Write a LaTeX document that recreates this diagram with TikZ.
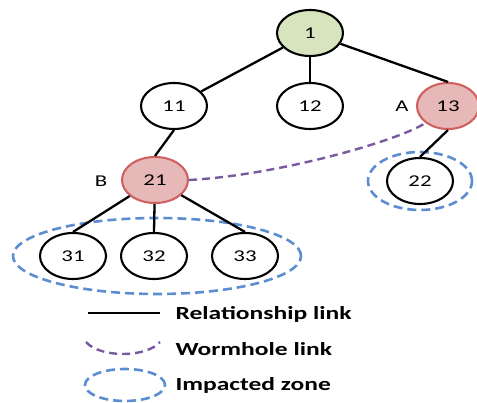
\documentclass[tikz,border=0pt]{standalone}
\usepackage{fontspec}
\usetikzlibrary{shapes.geometric}
\newfontfamily\nodefont[FakeStretch=1.38]{Carlito}
\newfontfamily\legfont[FakeStretch=1.38]{Carlito Bold}
\definecolor{gfill}{HTML}{D7E4BD}
\definecolor{rfill}{HTML}{E6B9B8}
\definecolor{rdraw}{HTML}{D06060}
\definecolor{zoneblue}{HTML}{5A8ED0}
\definecolor{wormpurple}{HTML}{7A5A9E}
\tikzset{
  tnode/.style={ellipse, draw=black, line width=2.1pt, fill=white, minimum width=66pt, minimum height=46pt, inner sep=0pt, font=\nodefont\fontsize{16.5}{16.5}\selectfont},
  greennode/.style={tnode, fill=gfill},
  rednode/.style={tnode, fill=rfill, draw=rdraw},
  rel/.style={line width=2.3pt, black},
  worm/.style={line width=2.4pt, wormpurple, dash pattern=on 8pt off 5pt},
  zone/.style={ellipse, draw=zoneblue, line width=2.6pt, dash pattern=on 9pt off 5pt, inner sep=0pt},
  lbl/.style={font=\nodefont\fontsize{16.5}{16.5}\selectfont},
  legtext/.style={anchor=west, font=\legfont\fontsize{18.5}{18.5}\selectfont}
}
\begin{document}
\begin{tikzpicture}[x=1pt,y=-1pt]
\useasboundingbox (0,0) rectangle (477,403);
% zones
\node[zone, minimum width=288pt, minimum height=76pt] (zbig) at (157,256) {};
\node[zone, minimum width=104pt, minimum height=58pt] (zsmall) at (420,181) {};
% nodes
\node[greennode] (n1) at (310,33) {1};
\node[tnode] (n11) at (174,106) {11};
\node[tnode] (n12) at (310,106) {12};
\node[rednode, minimum width=62pt] (n13) at (448,106) {13};
\node[rednode] (n21) at (155,180) {21};
\node[tnode] (n22) at (420,181) {22};
\node[tnode] (n31) at (73,256) {31};
\node[tnode] (n32) at (154,256) {32};
\node[tnode] (n33) at (245,256) {33};
\node[lbl] (la) at (402,106) {A};
\node[lbl] (lb) at (101,181) {B};
% relationship links
\draw[rel] (n1) -- (n11);
\draw[rel] (n1) -- (n12);
\draw[rel] (n1) -- (n13.north);
\draw[rel] (n11.south) -- (n21.north);
\draw[rel] (n13.south) -- (n22.north);
\draw[rel] (n21) -- (n31.north);
\draw[rel] (n21) -- (n32.north);
\draw[rel] (n21) -- (n33.north);
% wormhole
\draw[worm] (n21.east) .. controls (280,175) and (400,140) .. (n13.south west);
% legend
\coordinate (l1a) at (88,313);
\coordinate (l1b) at (160,313);
\draw[rel] (l1a) -- (l1b);
\node[legtext] (t1) at (172,314) {Relationship link};
\coordinate (l2a) at (86,342);
\coordinate (l2b) at (160,342);
\draw[worm] (l2a) .. controls (100,358) and (146,358) .. (l2b);
\node[legtext] (t2) at (172,349) {Wormhole link};
\node[zone, minimum width=80pt, minimum height=32pt] (lz) at (125,385) {};
\node[legtext] (t3) at (172,385) {Impacted zone};
\end{tikzpicture}
\end{document}
